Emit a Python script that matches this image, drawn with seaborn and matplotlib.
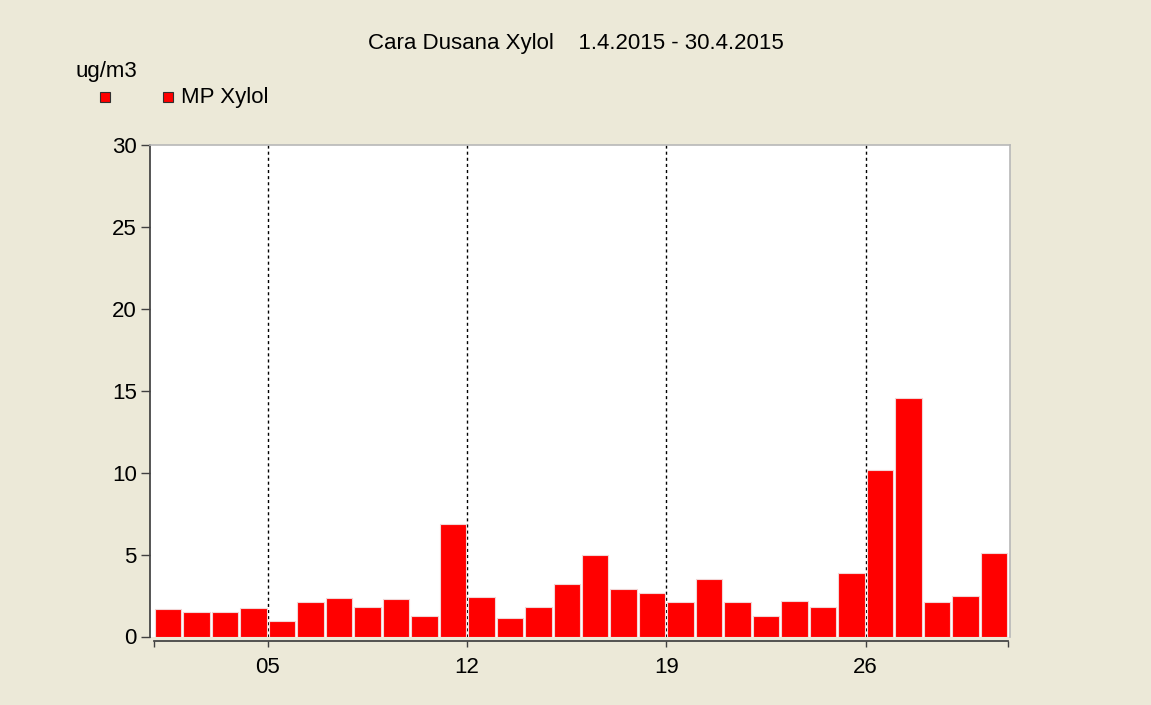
import pandas as pd
import matplotlib
matplotlib.use("Agg")
import matplotlib.pyplot as plt
from matplotlib.lines import Line2D
import seaborn as sns

# daily means of MP Xylol, April 2015 (ug/m3)
days = list(range(1, 31))
values = [1.66, 1.48, 1.48, 1.72, 0.95, 2.11, 2.33, 1.80, 2.27, 1.25,
          6.87, 2.41, 1.11, 1.80, 3.19, 4.96, 2.88, 2.64, 2.11, 3.49,
          2.11, 1.25, 2.19, 1.78, 3.88, 10.19, 14.57, 2.11, 2.49, 5.10]
tick_days = [5, 12, 19, 26]
tick_labels = ["05", "12", "19", "26"]
y_ticks = [0, 5, 10, 15, 20, 25, 30]

title = "Cara Dusana Xylol    1.4.2015 - 30.4.2015"
unit = "ug/m3"
series_name = "MP Xylol"

BG = "#ECE9D8"

sns.set_theme(style="white")
plt.rcParams["font.family"] = ["Liberation Sans", "DejaVu Sans"]
plt.rcParams["text.color"] = "black"

df = pd.DataFrame({"day": days, "value": values})
# each bar covers a whole day, so centre it at noon
df["pos"] = df["day"] + 0.5

fig = plt.figure(figsize=(11.51, 7.05), dpi=100, facecolor=BG)
ax = fig.add_axes([150 / 1151, 1 - 636.5 / 705, 860 / 1151, 491.5 / 705])
ax.set_facecolor("white")

sns.barplot(data=df, x="pos", y="value", native_scale=True, color="#FF0000",
            saturation=1, width=0.93, edgecolor="#f2d6d6", linewidth=0.8, ax=ax)

for d in tick_days:
    ax.axvline(d, color="black", linestyle=(0, (2.2, 2.2)), linewidth=1, zorder=0.5)

ax.set_xlim(0.86, 31.07)
ax.set_ylim(0, 30)
ax.set_xticks([1] + tick_days + [31])
ax.set_xticklabels([""] + tick_labels + [""])
ax.set_yticks(y_ticks)
ax.set_xlabel("")
ax.set_ylabel("")

for side in ["top", "right"]:
    ax.spines[side].set_color("#b8b8b8")
    ax.spines[side].set_linewidth(1.2)
ax.spines["left"].set_color("#404040")
ax.spines["bottom"].set_color("#404040")
ax.spines["bottom"].set_position(("outward", 3.5))
ax.spines["bottom"].set_bounds(1, 31)

ax.tick_params(axis="both", which="major", width=1, color="#404040",
               labelsize=16, labelcolor="black", direction="out")
ax.tick_params(axis="y", left=True, length=6.5, pad=3)
ax.tick_params(axis="x", bottom=True, length=4.5, pad=7)

fig.text(576 / 1151, 1 - 44 / 705, title, ha="center", va="center", fontsize=16)
fig.text(106 / 1151, 1 - 72 / 705, unit, ha="center", va="center", fontsize=16)
fig.text(181 / 1151, 1 - 97 / 705, series_name, ha="left", va="center", fontsize=16)
for mx in [105, 168]:
    fig.add_artist(Line2D([mx / 1151], [1 - 97 / 705], marker="s", markersize=7.5,
                          markerfacecolor="#FF0000", markeredgecolor="#303030",
                          markeredgewidth=0.8, linestyle="none",
                          transform=fig.transFigure))

fig.savefig("out.png", dpi=100, facecolor=BG)
